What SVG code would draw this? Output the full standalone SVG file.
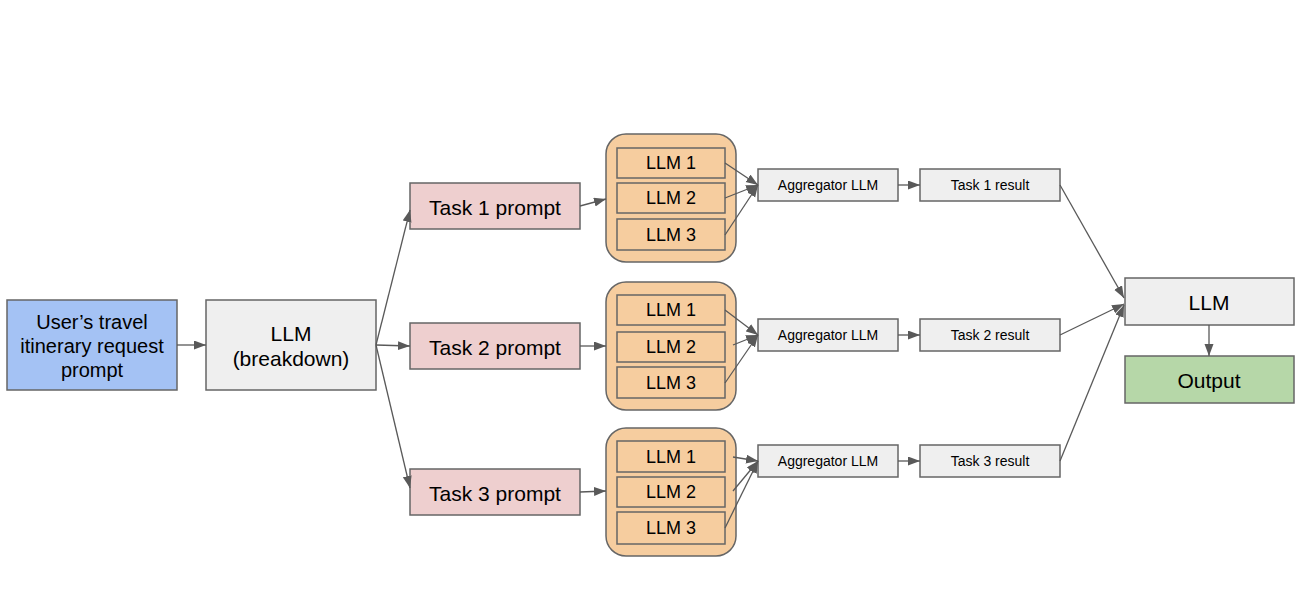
<svg xmlns="http://www.w3.org/2000/svg" width="1302" height="610" viewBox="0 0 1302 610">
<defs>
<style>
text{font-family:"Liberation Sans",Arial,sans-serif;fill:#000;text-anchor:middle;dominant-baseline:central}
.box{stroke:#666;stroke-width:1.5}
.big{font-size:21px}
.mid{font-size:18px}
.sm{font-size:14px}
.blue{fill:#a4c2f4}
.gray{fill:#efefef}
.pink{fill:#eecfcf}
.orange{fill:#f6cd9f}
.green{fill:#b6d7a8}
.conn line{stroke:#595959;stroke-width:1.3;marker-end:url(#ah)}
</style>
<marker id="ah" markerUnits="userSpaceOnUse" markerWidth="12" markerHeight="10" refX="12" refY="4.5" orient="auto">
<path d="M0,0 L12,4.5 L0,9 z" fill="#595959"/>
</marker>
</defs>
<rect width="1302" height="610" fill="#fff"/>

<g id="user"><rect class="box blue" x="7" y="300" width="170" height="90"/>
<text class="big" x="92" y="322" style="font-size:20px">User’s travel</text>
<text x="92" y="346" style="font-size:20px">itinerary request</text>
<text x="92" y="370" style="font-size:20px">prompt</text></g>

<g id="llm-breakdown"><rect class="box gray" x="206" y="300" width="170" height="90"/>
<text class="big" x="291" y="333">LLM</text>
<text class="big" x="291" y="358">(breakdown)</text></g>

<g id="task1"><rect class="box pink" x="410" y="183" width="170" height="46"/><text class="big" x="495" y="207">Task 1 prompt</text></g>
<g id="task2"><rect class="box pink" x="410" y="323" width="170" height="46"/><text class="big" x="495" y="347">Task 2 prompt</text></g>
<g id="task3"><rect class="box pink" x="410" y="469" width="170" height="46"/><text class="big" x="495" y="493">Task 3 prompt</text></g>

<g id="group1"><rect class="box orange" x="606" y="134" width="130" height="128" rx="20"/>
<rect class="box orange" x="617" y="148" width="108" height="30"/><text class="mid" x="671" y="163">LLM 1</text>
<rect class="box orange" x="617" y="183" width="108" height="30"/><text class="mid" x="671" y="198">LLM 2</text>
<rect class="box orange" x="617" y="219" width="108" height="31"/><text class="mid" x="671" y="235">LLM 3</text></g>
<g id="group2"><rect class="box orange" x="606" y="282" width="130" height="128" rx="20"/>
<rect class="box orange" x="617" y="295" width="108" height="30"/><text class="mid" x="671" y="310">LLM 1</text>
<rect class="box orange" x="617" y="332" width="108" height="30"/><text class="mid" x="671" y="347">LLM 2</text>
<rect class="box orange" x="617" y="367" width="108" height="31"/><text class="mid" x="671" y="383">LLM 3</text></g>
<g id="group3"><rect class="box orange" x="606" y="428" width="130" height="128" rx="20"/>
<rect class="box orange" x="617" y="441" width="108" height="31"/><text class="mid" x="671" y="457">LLM 1</text>
<rect class="box orange" x="617" y="477" width="108" height="30"/><text class="mid" x="671" y="492">LLM 2</text>
<rect class="box orange" x="617" y="512" width="108" height="32"/><text class="mid" x="671" y="528">LLM 3</text></g>

<g id="agg1"><rect class="box gray" x="758" y="169" width="140" height="32"/><text class="sm" x="828" y="185">Aggregator LLM</text></g>
<g id="agg2"><rect class="box gray" x="758" y="319" width="140" height="32"/><text class="sm" x="828" y="335">Aggregator LLM</text></g>
<g id="agg3"><rect class="box gray" x="758" y="445" width="140" height="32"/><text class="sm" x="828" y="461">Aggregator LLM</text></g>

<g id="res1"><rect class="box gray" x="920" y="169" width="140" height="32"/><text class="sm" x="990" y="185">Task 1 result</text></g>
<g id="res2"><rect class="box gray" x="920" y="319" width="140" height="32"/><text class="sm" x="990" y="335">Task 2 result</text></g>
<g id="res3"><rect class="box gray" x="920" y="445" width="140" height="32"/><text class="sm" x="990" y="461">Task 3 result</text></g>

<g id="llm-final"><rect class="box gray" x="1125" y="278" width="169" height="47"/><text class="big" x="1209" y="302">LLM</text></g>
<g id="output"><rect class="box green" x="1125" y="356" width="169" height="47"/><text class="big" x="1209" y="380">Output</text></g>

<g class="conn" id="connectors">
<line x1="177" y1="345" x2="206" y2="345"/>
<line x1="376" y1="345" x2="410" y2="210"/>
<line x1="376" y1="345" x2="410" y2="346"/>
<line x1="376" y1="345" x2="410" y2="488"/>
<line x1="580" y1="206" x2="606" y2="199"/>
<line x1="580" y1="346" x2="606" y2="346"/>
<line x1="580" y1="492" x2="606" y2="491"/>
<line x1="725" y1="163" x2="758" y2="185"/>
<line x1="725" y1="198" x2="758" y2="185"/>
<line x1="725" y1="235" x2="758" y2="185"/>
<line x1="725" y1="310" x2="758" y2="335"/>
<line x1="733" y1="345" x2="758" y2="335"/>
<line x1="725" y1="383" x2="758" y2="335"/>
<line x1="733" y1="457" x2="758" y2="461"/>
<line x1="733" y1="491" x2="758" y2="461"/>
<line x1="725" y1="528" x2="758" y2="461"/>
<line x1="898" y1="185" x2="920" y2="185"/>
<line x1="898" y1="335" x2="920" y2="335"/>
<line x1="898" y1="461" x2="920" y2="461"/>
<line x1="1060" y1="185" x2="1124" y2="298"/>
<line x1="1060" y1="335" x2="1124" y2="304"/>
<line x1="1060" y1="461" x2="1124" y2="305"/>
<line x1="1209" y1="325" x2="1209" y2="356"/>
</g>
</svg>
